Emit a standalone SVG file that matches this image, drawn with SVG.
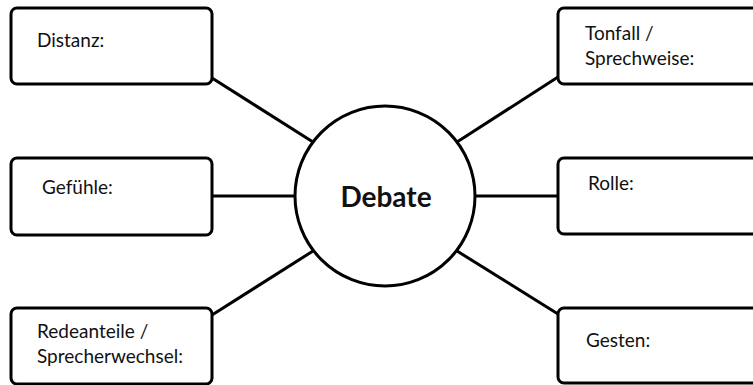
<svg xmlns="http://www.w3.org/2000/svg" width="753" height="385" viewBox="0 0 753 385">
<style>
.box{fill:#fff;stroke:#000;stroke-width:3}
.lbl{font-family:Lato,"Liberation Sans",sans-serif;font-size:19px;fill:#111}
.hub{font-family:Lato,"Liberation Sans",sans-serif;font-size:28px;font-weight:bold;fill:#111}
#connectors line{stroke:#000;stroke-width:3}
</style>
<rect width="753" height="385" fill="#fff"/>
<g id="connectors">
<line x1="212" y1="78" x2="313" y2="142"/>
<line x1="212" y1="196" x2="296" y2="196"/>
<line x1="212" y1="315" x2="313" y2="251"/>
<line x1="457" y1="142" x2="558" y2="77"/>
<line x1="474" y1="196" x2="558" y2="196"/>
<line x1="457" y1="251" x2="558" y2="314"/>
</g>
<g id="hub"><circle cx="385" cy="196" r="90" class="box"/><text class="hub" x="386" y="207" text-anchor="middle">Debate</text></g>
<g id="distanz"><rect class="box" x="11" y="8" width="201" height="76" rx="6"/><text class="lbl" x="37" y="47">Distanz:</text></g>
<g id="gefuehle"><rect class="box" x="11" y="158" width="201" height="77" rx="6"/><text class="lbl" x="42" y="194">Gefühle:</text></g>
<g id="redeanteile"><rect class="box" x="11" y="308" width="201" height="76" rx="6"/><text class="lbl" x="37" y="338">Redeanteile /</text><text class="lbl" x="37" y="363">Sprecherwechsel:</text></g>
<g id="tonfall"><rect class="box" x="558" y="8" width="201" height="76" rx="6"/><text class="lbl" x="585" y="40">Tonfall /</text><text class="lbl" x="585" y="65">Sprechweise:</text></g>
<g id="rolle"><rect class="box" x="558" y="158" width="201" height="76" rx="6"/><text class="lbl" x="588" y="190">Rolle:</text></g>
<g id="gesten"><rect class="box" x="558" y="308" width="201" height="75" rx="6"/><text class="lbl" x="586" y="347">Gesten:</text></g>
</svg>
